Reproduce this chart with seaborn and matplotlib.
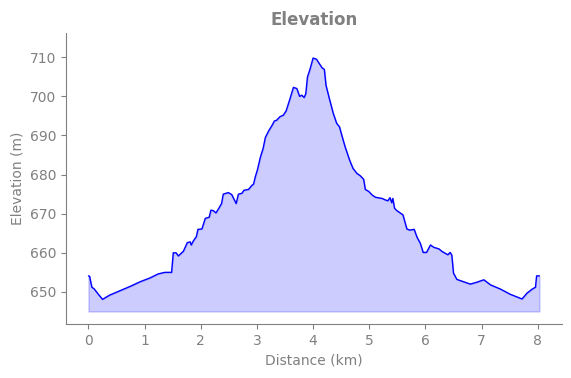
import numpy as np
import pandas as pd
import seaborn as sns
import matplotlib
matplotlib.use('Agg')
import matplotlib.pyplot as plt

# perfil de elevação
distancia_km = [0.00, 0.02, 0.06, 0.10, 0.17, 0.25, 0.38, 0.56, 0.74, 0.92, 1.10, 1.24, 1.36,
                1.48, 1.51, 1.56, 1.60, 1.69, 1.76, 1.81, 1.83, 1.87, 1.92, 1.95, 2.02, 2.08,
                2.15, 2.18, 2.22, 2.27, 2.33, 2.37, 2.40, 2.49, 2.55, 2.63, 2.67, 2.73, 2.77,
                2.85, 2.90, 2.94, 2.97, 3.01, 3.06, 3.11, 3.15, 3.21, 3.27, 3.31, 3.35, 3.41,
                3.47, 3.52, 3.58, 3.62, 3.65, 3.71, 3.76, 3.80, 3.84, 3.87, 3.90, 3.94, 4.00,
                4.06, 4.10, 4.16, 4.20, 4.23, 4.29, 4.36, 4.42, 4.47, 4.51, 4.57, 4.65, 4.71,
                4.78, 4.84, 4.90, 4.93, 4.99, 5.05, 5.11, 5.23, 5.29, 5.33, 5.37, 5.40, 5.42,
                5.45, 5.49, 5.55, 5.60, 5.67, 5.72, 5.80, 5.85, 5.91, 5.96, 6.02, 6.09, 6.15,
                6.24, 6.30, 6.40, 6.44, 6.47, 6.50, 6.56, 6.68, 6.80, 6.92, 7.04, 7.16, 7.34,
                7.51, 7.72, 7.81, 7.90, 7.96, 7.98, 8.03]
elevacao_m = [654.1, 654.0, 651.2, 650.8, 649.5, 648.1, 649.2, 650.3, 651.4, 652.6, 653.6, 654.6, 655.0,
              655.0, 660.0, 660.0, 659.2, 660.4, 662.6, 662.8, 662.0, 663.1, 664.1, 666.0, 666.1, 668.8,
              669.1, 670.9, 670.8, 670.2, 671.6, 672.6, 675.0, 675.4, 674.9, 672.6, 675.0, 675.2, 676.0,
              676.2, 677.1, 677.6, 679.4, 681.3, 684.4, 686.7, 689.5, 691.2, 692.6, 693.7, 693.9, 694.8,
              695.2, 696.3, 699.0, 700.9, 702.3, 702.0, 700.0, 700.3, 699.7, 700.7, 705.0, 706.7, 709.8,
              709.5, 708.6, 707.3, 706.9, 702.8, 699.4, 695.6, 693.1, 692.2, 690.1, 687.1, 683.7, 681.6,
              680.3, 679.7, 678.8, 676.2, 675.7, 674.8, 674.2, 673.9, 673.5, 673.3, 674.1, 672.8, 673.9,
              671.4, 670.8, 670.2, 669.7, 666.1, 665.8, 666.0, 664.0, 662.4, 660.1, 660.1, 662.0, 661.4,
              661.0, 660.3, 659.5, 660.1, 659.4, 654.8, 653.2, 652.6, 652.0, 652.5, 653.1, 651.8, 650.7,
              649.4, 648.2, 649.7, 650.7, 651.2, 654.1, 654.1]

df = pd.DataFrame({'Distance (km)': distancia_km, 'Elevation (m)': elevacao_m})
base = 645

cinza = 'gray'
sns.set_style('ticks')
plt.rcParams['font.family'] = ['DejaVu Sans']

fig = plt.figure(figsize=(5.71, 3.78), dpi=100)
ax = fig.add_axes([0.1156, 0.1429, 0.8684, 0.7698])

sns.lineplot(data=df, x='Distance (km)', y='Elevation (m)', color='blue', linewidth=1, ax=ax)
ax.fill_between(df['Distance (km)'], df['Elevation (m)'], base, color='blue', alpha=0.2)

ax.set_ylim(641.8, 716.2)
ax.set_xlim(-0.4, 8.43)
ax.set_xticks(range(0, 9))
ax.set_title('Elevation', color=cinza, fontweight='bold', fontsize=12)
ax.set_xlabel('Distance (km)', color=cinza)
ax.set_ylabel('Elevation (m)', color=cinza)
ax.tick_params(colors=cinza)
for lado in ['left', 'bottom']:
    ax.spines[lado].set_color(cinza)
sns.despine(ax=ax)

fig.savefig('out.png', dpi=100)
